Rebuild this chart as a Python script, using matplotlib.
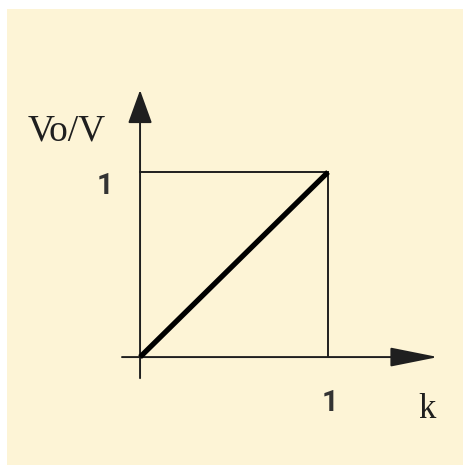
import matplotlib.pyplot as plt
from matplotlib.patches import Rectangle

# transfer characteristic: Vo/V against k
k = [0, 1]
vo = [0, 1]
xticks = [1]
yticks = [1]

ink = '#1f1f1f'
cream = '#fdf4d6'

fig = plt.figure(figsize=(4.63, 4.69), dpi=100)
fig.patch.set_facecolor('white')

ax = fig.add_axes([0, 0, 1, 1])
ax.set_xlim(-0.745, 1.718)
ax.set_ylim(-0.605, 1.930)
ax.axis('off')
ax.add_patch(Rectangle((7/463, 4/469), 456/463, 456/469,
                       transform=fig.transFigure, facecolor=cream,
                       edgecolor='none', zorder=0))

# axes with arrows
ax.annotate('', xy=(1.585, 0), xytext=(-0.096, 0),
            arrowprops=dict(arrowstyle='-|>,head_length=1.5,head_width=0.3',
                            mutation_scale=20, lw=1.4, color=ink,
                            shrinkA=0, shrinkB=0))
ax.annotate('', xy=(0, 1.443), xytext=(0, -0.114),
            arrowprops=dict(arrowstyle='-|>,head_length=1.05,head_width=0.38',
                            mutation_scale=20, lw=1.4, color=ink,
                            shrinkA=0, shrinkB=0))

# box to (1, 1)
ax.plot([0, k[1]], [vo[1], vo[1]], color=ink, lw=1.4, zorder=2)
ax.plot([k[1], k[1]], [0, vo[1]], color=ink, lw=1.4, zorder=2)

# characteristic
ax.plot(k, vo, color='black', lw=3.8, solid_capstyle='butt', zorder=3)

for t in xticks:
    ax.text(t + 0.01, -0.25, str(t), ha='center', va='center',
            fontsize=21, fontweight='bold', family='Roboto', color='#333333')
for t in yticks:
    ax.text(-0.186, t - 0.075, str(t), ha='center', va='center',
            fontsize=21, fontweight='bold', family='Roboto', color='#333333')

ax.text(1.527, -0.33, 'k', ha='center', va='baseline',
        fontsize=25, family='Liberation Serif', color=ink)
ax.text(-0.388, 1.173, 'Vo/V', ha='center', va='baseline',
        fontsize=27, family='Liberation Serif', color=ink)

fig.savefig('out.png', dpi=100, facecolor=fig.get_facecolor())
